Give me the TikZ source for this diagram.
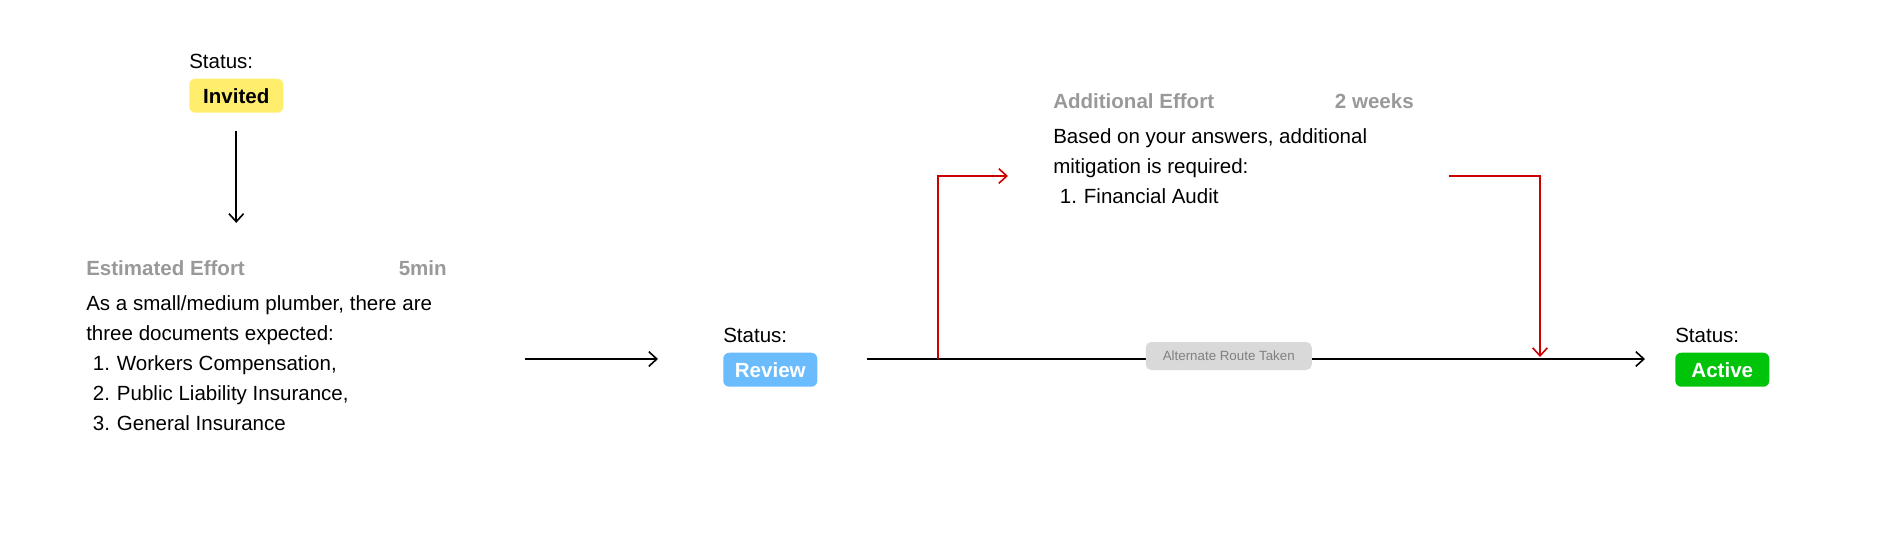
\documentclass[tikz,border=0pt]{standalone}
\usepackage{fontspec}
\setmainfont{Liberation Sans}
\usetikzlibrary{positioning}
\usetikzlibrary{arrows.meta}

\definecolor{invitedyellow}{HTML}{FFEE6B}
\definecolor{reviewblue}{HTML}{6BBBFF}
\definecolor{activegreen}{HTML}{00C40A}
\definecolor{headgray}{HTML}{999999}
\definecolor{routered}{HTML}{CC0000}
\definecolor{labelgray}{HTML}{D9D9D9}
\definecolor{labeltext}{HTML}{808080}

\newcommand{\listitem}[2]{\makebox[23pt][l]{\hspace{5pt}#1.}#2}

\begin{document}
\begin{tikzpicture}[
    x=0.75pt, y=-0.75pt,
    >={Straight Barb[length=6pt, width=11pt]},
    % Define the style for the nodes
    statuslabel/.style={inner sep=0pt, anchor=base west, font=\fontsize{15.4}{18}\selectfont},
    badge/.style={rounded corners=4.5pt, minimum width=70.5pt, minimum height=25.5pt, inner sep=0pt, font=\fontsize{15.4}{18}\selectfont\bfseries},
    heading/.style={inner sep=0pt, text=headgray, font=\fontsize{15.4}{18}\selectfont\bfseries},
    body/.style={inner sep=0pt, anchor=base west, align=left, font=\fontsize{15.4}{22.5}\selectfont},
    routelabel/.style={fill=labelgray, text=labeltext, rounded corners=4pt, minimum width=124.5pt, minimum height=21pt, inner sep=0pt, font=\fontsize{10}{12}\selectfont},
    flow/.style={->, line width=1.2pt},
    detour/.style={->, line width=1.2pt, draw=routered}
]
    \useasboundingbox (0,0) rectangle (1900,537);

    % invited
    \node[statuslabel] (st-invited) at (189,68) {Status:};
    \node[badge, fill=invitedyellow, below=7.5pt of st-invited.south west, anchor=north west] (invited) {Invited};

    % estimated effort (body anchored at its last line)
    \node[heading, anchor=base west] (est-head) at (86,275) {Estimated Effort};
    \node[heading, anchor=base east] (est-time) at (447,275) {5min};
    \node[body] (est-text) at (86,430) {As a small/medium plumber, there are\\
        three documents expected:\\
        \listitem{1}{Workers Compensation,}\\
        \listitem{2}{Public Liability Insurance,}\\
        \listitem{3}{General Insurance}};

    % review
    \node[statuslabel] (st-review) at (723,342) {Status:};
    \node[badge, fill=reviewblue, text=white, below=7.5pt of st-review.south west, anchor=north west] (review) {Review};

    % additional effort
    \node[heading, anchor=base west] (add-head) at (1053,108) {Additional Effort};
    \node[heading, anchor=base east] (add-time) at (1414,108) {2 weeks};
    \node[body] (add-text) at (1053,203) {Based on your answers, additional\\
        mitigation is required:\\
        \listitem{1}{Financial Audit}};

    % active
    \node[statuslabel] (st-active) at (1675,342) {Status:};
    \node[badge, fill=activegreen, text=white, below=7.5pt of st-active.south west, anchor=north west] (active) {Active};

    % connectors
    \coordinate (effort-out) at (525,359);
    \coordinate (main-start) at (867,359);
    \coordinate (main-end) at (1645,359);
    \coordinate (split) at (938,359);
    \coordinate (detour-in) at (1008,176);
    \coordinate (detour-out) at (1449,176);
    \coordinate (join) at (1540,357);

    \draw[flow, shorten <=13.5pt, shorten >=27.75pt] (invited) -- (invited |- est-head.north);
    \draw[flow, shorten >=48.75pt] (effort-out) -- (effort-out -| review.west);
    \draw[flow] (main-start) -- node[routelabel, pos=0.465, yshift=2.25pt] (alt) {Alternate Route Taken} (main-end);
    \draw[detour] (split) |- (detour-in);
    \draw[detour] (detour-out) -| (join);

\end{tikzpicture}
\end{document}
